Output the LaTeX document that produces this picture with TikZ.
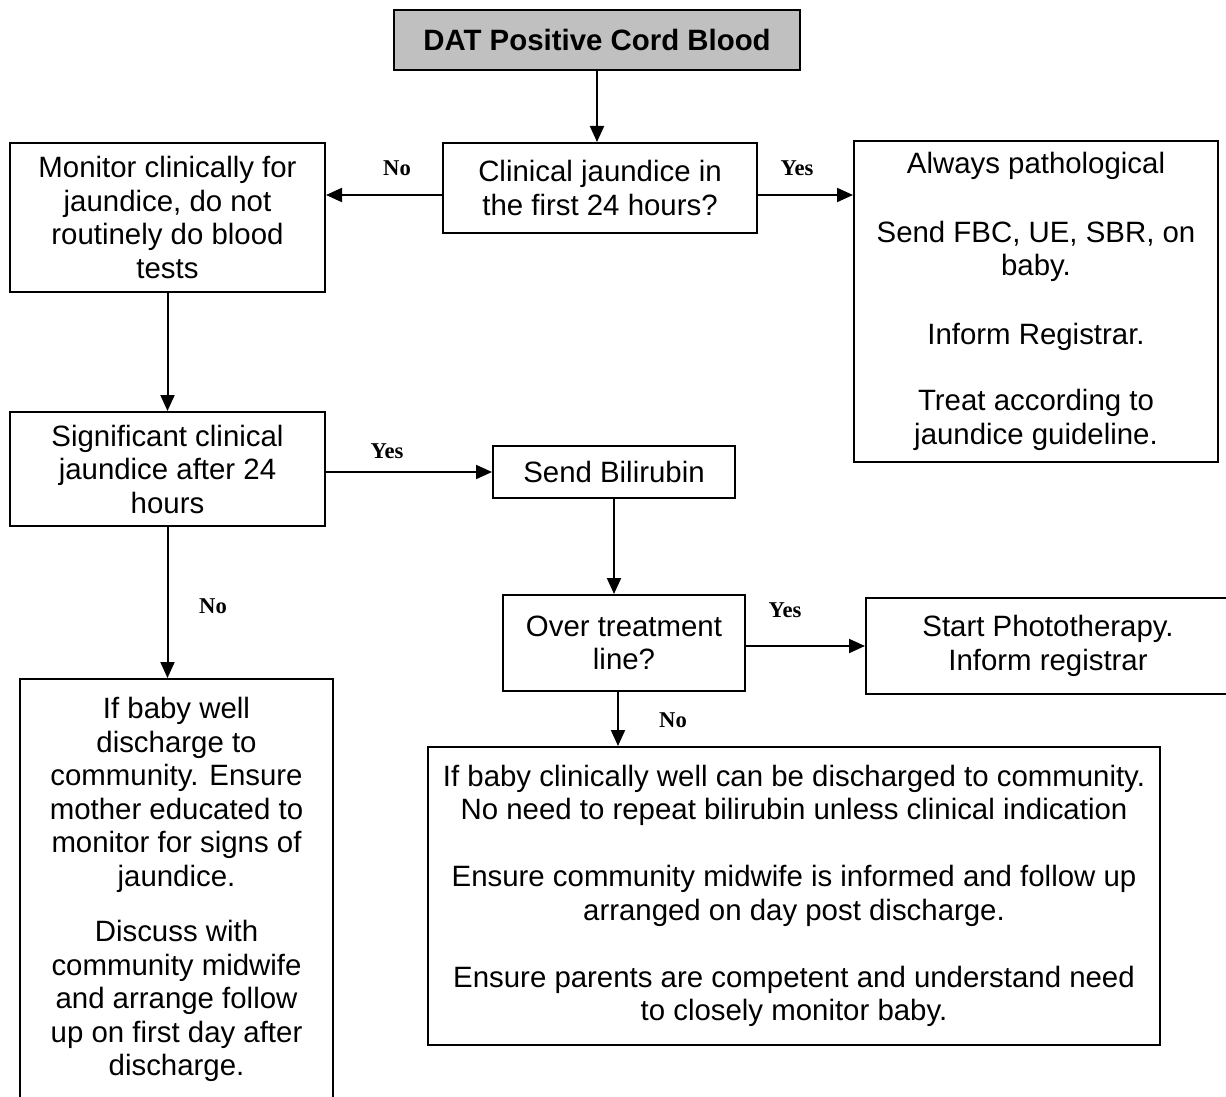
\documentclass[tikz,border=0pt]{standalone}
\usepackage{fontspec}
\setmainfont{Liberation Sans}
\newfontfamily\yesnofont{Liberation Serif}
\usetikzlibrary{arrows.meta}
\definecolor{datgray}{RGB}{192,192,192}

\begin{document}
\begin{tikzpicture}[
	x=0.5pt, y=-0.5pt,
	line width=1pt,
	every node/.style={font=\fontsize{14.7}{16.75}\selectfont},
	flowbox/.style={shape=rectangle, draw=black, align=center, inner sep=2pt},
	startbox/.style={flowbox, fill=datgray, font=\fontsize{14.7}{16.75}\selectfont\bfseries},
	answer/.style={font=\yesnofont\fontsize{11.3}{13}\selectfont\bfseries},
	arr/.style={-{Triangle[length=8pt, width=7pt]}},
] 
\useasboundingbox (0,0) rectangle (1226,1097);
\clip (0,0) rectangle (1226,1097);

% boxes
\node[startbox, minimum width=203pt, minimum height=30pt] (dat) at (597,40) {DAT Positive Cord Blood};
\node[flowbox, minimum width=157pt, minimum height=45pt] (clinical) at (600,188) {Clinical jaundice in\\the first 24 hours?};
\node[flowbox, minimum width=157.5pt, minimum height=74.5pt] (monitor) at (167.5,217.5) {Monitor clinically for\\jaundice, do not\\routinely do blood\\tests};
\node[flowbox, minimum width=182pt, minimum height=160.5pt] (patho) at (1036,301.5) {Always pathological\\[17.5pt]Send FBC, UE, SBR, on\\baby.\\[17.5pt]Inform Registrar.\\[16.5pt]Treat according to\\jaundice guideline.};
\node[flowbox, minimum width=157.5pt, minimum height=57pt] (signif) at (167.5,469) {Significant clinical\\jaundice after 24\\hours};
\node[flowbox, minimum width=121pt, minimum height=26pt] (send) at (614,472) {Send Bilirubin};
\node[flowbox, minimum width=121pt, minimum height=48pt] (over) at (624,643) {Over treatment\\line?};
\node[flowbox, minimum width=182pt, minimum height=48pt] (photo) at (1048,646) {Start Phototherapy.\\Inform registrar};
\node[flowbox, minimum width=366pt, minimum height=149pt] (discharge) at (794,896) {If baby clinically well can be discharged to community.\\No need to repeat bilirubin unless clinical indication\\[16.75pt]Ensure community midwife is informed and follow up\\arranged on day post discharge.\\[16.75pt]Ensure parents are competent and understand need\\to closely monitor baby.};
\node[flowbox, minimum width=156.5pt, minimum height=225pt, anchor=north] (well) at (176.5,678) {};
\node[align=center, anchor=north] (welltext) at (176.5,690) {If baby well\\discharge to\\community. Ensure\\mother educated to\\monitor for signs of\\jaundice.\\[11pt]Discuss with\\community midwife\\and arrange follow\\up on first day after\\discharge.};

% connectors
\draw[arr] (dat) -- (dat |- clinical.north);
\draw[arr] ([yshift=-3.5pt]clinical.west) -- ([yshift=-3.5pt]clinical.west -| monitor.east);
\draw[arr] ([yshift=-3.5pt]clinical.east) -- ([yshift=-3.5pt]clinical.east -| patho.west);
\draw[arr] (monitor.south) -- (signif.north);
\draw[arr] (send.west -| signif.east) -- (send.west);
\draw[arr] (send.south) -- (send.south |- over.north);
\draw[arr] (photo.west -| over.east) -- (photo.west);
\draw[arr] ([xshift=-3pt]over.south) -- ([xshift=-3pt]over.south |- discharge.north);
\draw[arr] (signif.south) -- (signif.south |- well.north);

% yes / no
\node[answer] (no1) at (397,168) {No};
\node[answer] (yes1) at (797,168) {Yes};
\node[answer] (yes2) at (387,451) {Yes};
\node[answer] (no2) at (213,606) {No};
\node[answer] (yes3) at (785,610) {Yes};
\node[answer] (no3) at (673,720) {No};
\end{tikzpicture}
\end{document}
